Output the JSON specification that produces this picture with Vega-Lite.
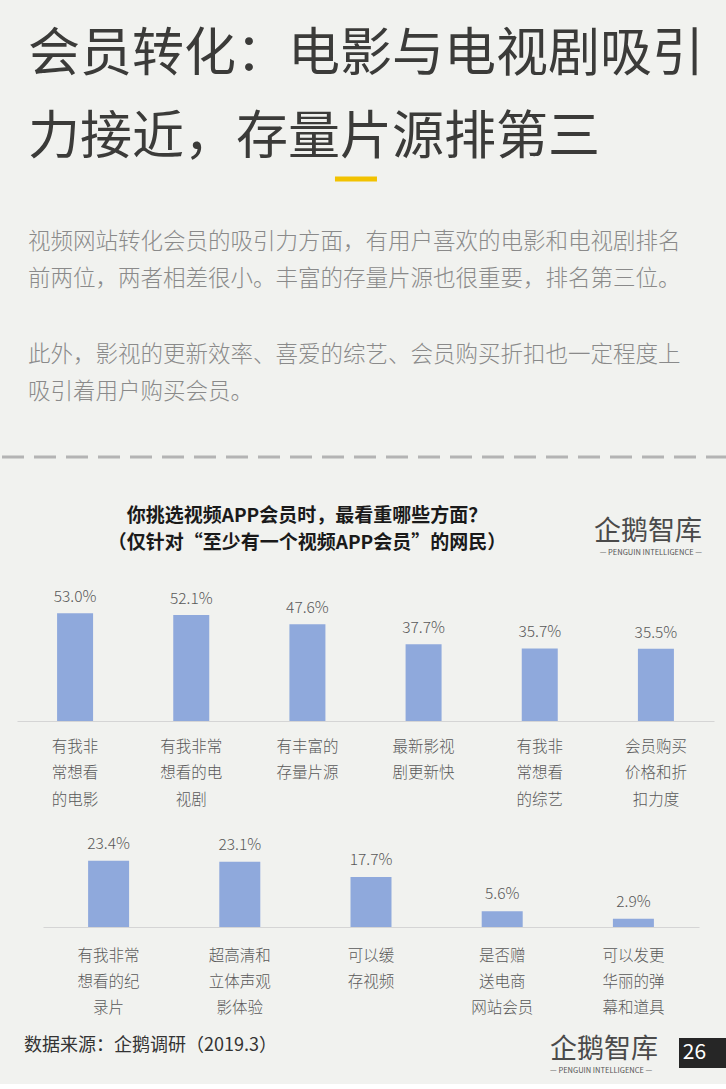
{
  "$schema": "https://vega.github.io/schema/vega-lite/v6.json",
  "background": "#f1f2ef",
  "padding": {"top": 29, "left": 0, "right": 0, "bottom": 10},
  "bounds": "flush",
  "spacing": 0,
  "config": {
    "view": {"stroke": null},
    "font": "Noto Sans CJK SC",
    "title": {"font": "Noto Sans CJK SC", "subtitleFont": "Noto Sans CJK SC", "frame": "group"}
  },
  "vconcat": [
    {
      "width": 726,
      "height": 278,
      "title": {
        "text": ["会员转化：电影与电视剧吸引", "力接近，存量片源排第三"],
        "anchor": "start", "dx": 26, "fontSize": 52, "lineHeight": 83,
        "color": "#3b3b39", "fontWeight": 400, "offset": 11
      },
      "data": {"values": [{"level": 1}]},
      "mark": {"type": "point", "shape": "M-1.43,-0.12H0.57V0.12H-1.43Z", "size": 1764, "filled": true, "color": "#f2c200", "opacity": 1},
      "encoding": {"y": {"field": "level", "type": "quantitative", "scale": {"domain": [0, 1]}, "axis": null}}
    },
    {
      "width": 726,
      "height": 108,
      "title": {
        "text": [
          "视频网站转化会员的吸引力方面，有用户喜欢的电影和电视剧排名",
          "前两位，两者相差很小。丰富的存量片源也很重要，排名第三位。"
        ],
        "subtitle": [
          "此外，影视的更新效率、喜爱的综艺、会员购买折扣也一定程度上",
          "吸引着用户购买会员。"
        ],
        "anchor": "start", "dx": 26, "fontSize": 22.5, "lineHeight": 37.5,
        "color": "#8a8a8a", "fontWeight": 300,
        "subtitleFontSize": 22.5, "subtitleLineHeight": 37.5, "subtitleColor": "#8a8a8a",
        "subtitleFontWeight": 300, "subtitlePadding": 53, "offset": 52
      },
      "data": {"values": [{"level": 1}]},
      "mark": {"type": "rule", "strokeDash": [22, 10], "strokeWidth": 3, "color": "#b4b4b4"},
      "encoding": {"y": {"field": "level", "type": "quantitative", "scale": {"domain": [0, 1]}, "axis": null}}
    },
    {
      "width": 726,
      "height": 34,
      "title": {
        "text": "企鹅智库",
        "subtitle": "— PENGUIN INTELLIGENCE —",
        "anchor": "end", "dx": -26, "fontSize": 27, "color": "#4a4a4a", "fontWeight": 400,
        "subtitleFontSize": 7.5, "subtitleColor": "#555555", "subtitlePadding": 3, "offset": 8
      },
      "data": {"values": []},
      "mark": "point"
    },
    {
      "width": 726,
      "height": 122,
      "title": {
        "text": "你挑选视频APP会员时，最看重哪些方面？",
        "subtitle": "（仅针对“至少有一个视频APP会员”的网民）",
        "anchor": "middle", "dx": -58, "fontSize": 19,
        "fontWeight": 700, "color": "#1a1a1a",
        "subtitleFontSize": 19, "subtitleFontWeight": 700, "subtitleColor": "#1a1a1a",
        "subtitlePadding": 8.5, "offset": 37
      },
      "data": {"values": [
        {"aspect": "有我非\n常想看\n的电影", "share": 0.530},
        {"aspect": "有我非常\n想看的电\n视剧", "share": 0.521},
        {"aspect": "有丰富的\n存量片源", "share": 0.476},
        {"aspect": "最新影视\n剧更新快", "share": 0.377},
        {"aspect": "有我非\n常想看\n的综艺", "share": 0.357},
        {"aspect": "会员购买\n价格和折\n扣力度", "share": 0.355}
      ]},
      "encoding": {
        "x": {
          "field": "aspect", "type": "nominal", "sort": null,
          "scale": {"range": [15, 712], "paddingInner": 0, "paddingOuter": 0},
          "axis": {
            "title": null, "labelAngle": 0, "ticks": false,
            "domainColor": "#d5d5d5", "domainWidth": 1,
            "labelExpr": "split(datum.value, '\\n')",
            "labelFontSize": 15.5, "labelColor": "#595959", "labelFontWeight": 300,
            "labelLineHeight": 26.5, "labelPadding": 18, "labelBaseline": "top",
            "labelOverlap": false, "labelLimit": 0
          }
        },
        "y": {"field": "share", "type": "quantitative", "scale": {"domain": [0, 0.6]}, "axis": null}
      },
      "layer": [
        {"mark": {"type": "bar", "width": 36, "color": "#8fa9dc"}},
        {
          "mark": {"type": "text", "baseline": "alphabetic", "dy": -11, "fontSize": 15.5, "fontWeight": 300, "color": "#595959"},
          "encoding": {"text": {"field": "share", "type": "quantitative", "format": ".1%"}}
        }
      ]
    },
    {
      "width": 726,
      "height": 206,
      "data": {"values": [
        {"aspect": "有我非常\n想看的纪\n录片", "share": 0.234},
        {"aspect": "超高清和\n立体声观\n影体验", "share": 0.231},
        {"aspect": "可以缓\n存视频", "share": 0.177},
        {"aspect": "是否赠\n送电商\n网站会员", "share": 0.056},
        {"aspect": "可以发更\n华丽的弹\n幕和道具", "share": 0.029}
      ]},
      "encoding": {
        "x": {
          "field": "aspect", "type": "nominal", "sort": null,
          "scale": {"range": [41, 697], "paddingInner": 0, "paddingOuter": 0},
          "axis": {
            "title": null, "labelAngle": 0, "ticks": false,
            "domainColor": "#d5d5d5", "domainWidth": 1,
            "labelExpr": "split(datum.value, '\\n')",
            "labelFontSize": 15.5, "labelColor": "#595959", "labelFontWeight": 300,
            "labelLineHeight": 26, "labelPadding": 21, "labelBaseline": "top",
            "labelOverlap": false, "labelLimit": 0
          }
        },
        "y": {"field": "share", "type": "quantitative", "scale": {"domain": [0, 0.728]}, "axis": null}
      },
      "layer": [
        {"mark": {"type": "bar", "width": 41, "color": "#8fa9dc"}},
        {
          "mark": {"type": "text", "baseline": "alphabetic", "dy": -12, "fontSize": 15.5, "fontWeight": 300, "color": "#595959"},
          "encoding": {"text": {"field": "share", "type": "quantitative", "format": ".1%"}}
        }
      ]
    },
    {
      "width": 726,
      "height": 111,
      "data": {"values": []},
      "mark": "point"
    },
    {
      "bounds": "flush",
      "spacing": 0,
      "hconcat": [
        {
          "width": 548,
          "height": 30,
          "title": {
            "text": "数据来源：企鹅调研（2019.3）",
            "anchor": "start", "dx": 22, "dy": 17, "offset": 0,
            "fontSize": 18, "color": "#333333", "fontWeight": 400
          },
          "data": {"values": []},
          "mark": "point"
        },
        {
          "width": 129,
          "height": 30,
          "title": {
            "text": "企鹅智库",
            "subtitle": "— PENGUIN INTELLIGENCE —",
            "anchor": "start", "dy": 37, "offset": 0,
            "fontSize": 27, "color": "#4a4a4a", "fontWeight": 400,
            "subtitleFontSize": 7.5, "subtitleColor": "#555555", "subtitlePadding": 3
          },
          "data": {"values": []},
          "mark": "point"
        },
        {
          "width": 49,
          "height": 30,
          "view": {"fill": "#262626", "stroke": null},
          "data": {"values": [{"page": "26"}]},
          "mark": {"type": "text", "color": "#ffffff", "fontSize": 21, "dx": -9},
          "encoding": {"text": {"field": "page", "type": "nominal"}}
        }
      ]
    }
  ]
}
